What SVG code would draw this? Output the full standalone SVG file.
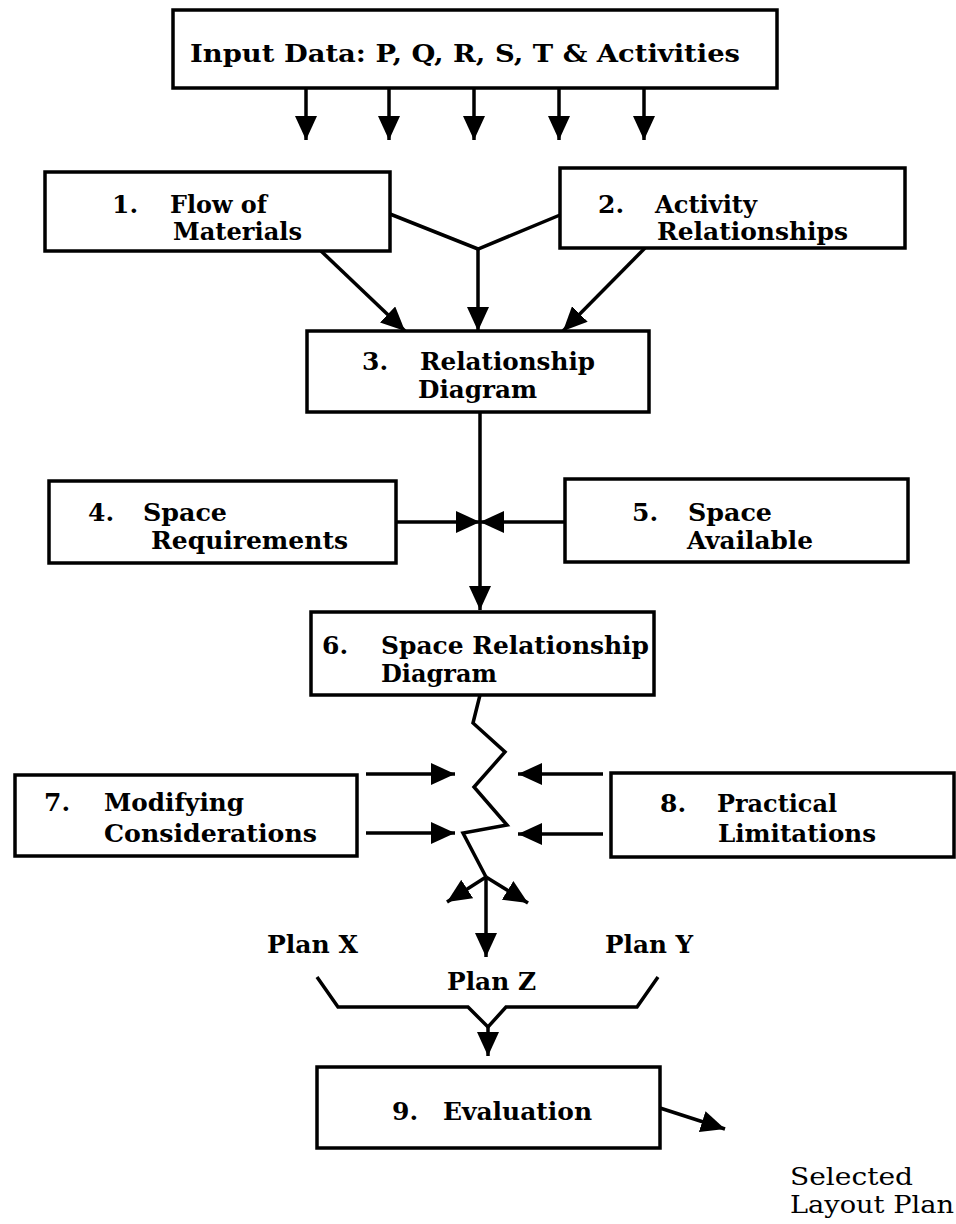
<svg xmlns="http://www.w3.org/2000/svg" width="956" height="1224" viewBox="0 0 956 1224">
<style>
.box{fill:#fff;stroke:#000;stroke-width:3.5}
.t{font-family:"DejaVu Serif","Liberation Serif",serif;font-weight:bold;font-size:25px;fill:#000}
.s{font-family:"DejaVu Serif","Liberation Serif",serif;font-size:25px;fill:#000}
.ln{fill:none;stroke:#000;stroke-width:3.5;stroke-linejoin:miter}
</style>
<defs>
<marker id="ah" markerUnits="userSpaceOnUse" markerWidth="26" markerHeight="22" refX="24" refY="11" orient="auto">
<path d="M0,0 L24,11 L0,22 z" fill="#000"/>
</marker>
</defs>
<rect width="956" height="1224" fill="#fff"/>
<g id="connectors">
<line class="ln" x1="306" y1="88" x2="306" y2="140" marker-end="url(#ah)"/>
<line class="ln" x1="389" y1="88" x2="389" y2="140" marker-end="url(#ah)"/>
<line class="ln" x1="474" y1="88" x2="474" y2="140" marker-end="url(#ah)"/>
<line class="ln" x1="559" y1="88" x2="559" y2="140" marker-end="url(#ah)"/>
<line class="ln" x1="644" y1="88" x2="644" y2="140" marker-end="url(#ah)"/>
<polyline class="ln" points="390,214 478,249 560,215"/>
<line class="ln" x1="478" y1="249" x2="478" y2="331" marker-end="url(#ah)"/>
<line class="ln" x1="321" y1="251" x2="405" y2="331" marker-end="url(#ah)"/>
<line class="ln" x1="645" y1="248" x2="563" y2="331" marker-end="url(#ah)"/>
<line class="ln" x1="480" y1="412" x2="480" y2="610" marker-end="url(#ah)"/>
<line class="ln" x1="396" y1="522" x2="480" y2="522" marker-end="url(#ah)"/>
<line class="ln" x1="565" y1="522" x2="480" y2="522" marker-end="url(#ah)"/>
<polyline class="ln" points="480,695 473,723 505,752 474,787 507,825 463,833 486,877"/>
<line class="ln" x1="486" y1="877" x2="447" y2="902" marker-end="url(#ah)"/>
<line class="ln" x1="486" y1="877" x2="528" y2="903" marker-end="url(#ah)"/>
<line class="ln" x1="486" y1="877" x2="486" y2="957" marker-end="url(#ah)"/>
<line class="ln" x1="366" y1="774" x2="455" y2="774" marker-end="url(#ah)"/>
<line class="ln" x1="366" y1="833" x2="455" y2="833" marker-end="url(#ah)"/>
<line class="ln" x1="603" y1="774" x2="518" y2="774" marker-end="url(#ah)"/>
<line class="ln" x1="603" y1="834" x2="518" y2="834" marker-end="url(#ah)"/>
<polyline class="ln" points="317,977 338,1007 468,1007 488,1027 506,1007 637,1007 658,977"/>
<line class="ln" x1="488" y1="1026" x2="488" y2="1056" marker-end="url(#ah)"/>
<line class="ln" x1="660" y1="1108" x2="725" y2="1129" marker-end="url(#ah)"/>
</g>
<g id="input">
<rect class="box" x="173" y="10" width="604" height="78"/>
<text class="t" x="190" y="62" textLength="550" lengthAdjust="spacingAndGlyphs">Input Data:  P, Q, R, S, T &amp; Activities</text>
</g>
<g id="n1">
<rect class="box" x="45" y="172" width="345" height="79"/>
<text class="t" x="112" y="213">1.</text>
<text class="t" x="170" y="213" textLength="97" lengthAdjust="spacingAndGlyphs">Flow of</text>
<text class="t" x="173" y="240" textLength="129" lengthAdjust="spacingAndGlyphs">Materials</text>
</g>
<g id="n2">
<rect class="box" x="560" y="168" width="345" height="80"/>
<text class="t" x="598" y="213">2.</text>
<text class="t" x="655" y="213" textLength="102" lengthAdjust="spacingAndGlyphs">Activity</text>
<text class="t" x="657" y="240" textLength="191" lengthAdjust="spacingAndGlyphs">Relationships</text>
</g>
<g id="n3">
<rect class="box" x="307" y="331" width="342" height="81"/>
<text class="t" x="362" y="370">3.</text>
<text class="t" x="420" y="370" textLength="175" lengthAdjust="spacingAndGlyphs">Relationship</text>
<text class="t" x="418" y="398" textLength="119" lengthAdjust="spacingAndGlyphs">Diagram</text>
</g>
<g id="n4">
<rect class="box" x="49" y="481" width="347" height="82"/>
<text class="t" x="88" y="521">4.</text>
<text class="t" x="143" y="521" textLength="84" lengthAdjust="spacingAndGlyphs">Space</text>
<text class="t" x="151" y="549" textLength="197" lengthAdjust="spacingAndGlyphs">Requirements</text>
</g>
<g id="n5">
<rect class="box" x="565" y="479" width="343" height="83"/>
<text class="t" x="632" y="521">5.</text>
<text class="t" x="688" y="521" textLength="84" lengthAdjust="spacingAndGlyphs">Space</text>
<text class="t" x="687" y="549" textLength="126" lengthAdjust="spacingAndGlyphs">Available</text>
</g>
<g id="n6">
<rect class="box" x="311" y="612" width="343" height="83"/>
<text class="t" x="322" y="654">6.</text>
<text class="t" x="381" y="654" textLength="268" lengthAdjust="spacingAndGlyphs">Space Relationship</text>
<text class="t" x="381" y="682" textLength="116" lengthAdjust="spacingAndGlyphs">Diagram</text>
</g>
<g id="n7">
<rect class="box" x="15" y="775" width="342" height="81"/>
<text class="t" x="44" y="811">7.</text>
<text class="t" x="104" y="811" textLength="140" lengthAdjust="spacingAndGlyphs">Modifying</text>
<text class="t" x="104" y="842" textLength="213" lengthAdjust="spacingAndGlyphs">Considerations</text>
</g>
<g id="n8">
<rect class="box" x="611" y="773" width="343" height="84"/>
<text class="t" x="660" y="812">8.</text>
<text class="t" x="717" y="812" textLength="120" lengthAdjust="spacingAndGlyphs">Practical</text>
<text class="t" x="718" y="842" textLength="158" lengthAdjust="spacingAndGlyphs">Limitations</text>
</g>
<g id="plans">
<text class="t" x="267" y="953" textLength="91" lengthAdjust="spacingAndGlyphs">Plan X</text>
<text class="t" x="605" y="953" textLength="88" lengthAdjust="spacingAndGlyphs">Plan Y</text>
<text class="t" x="447" y="990" textLength="89" lengthAdjust="spacingAndGlyphs">Plan Z</text>
</g>
<g id="n9">
<rect class="box" x="317" y="1067" width="343" height="81"/>
<text class="t" x="392" y="1120">9.</text>
<text class="t" x="443" y="1120" textLength="149" lengthAdjust="spacingAndGlyphs">Evaluation</text>
</g>
<g id="selected">
<text class="s" x="790" y="1185" textLength="123" lengthAdjust="spacingAndGlyphs">Selected</text>
<text class="s" x="790" y="1213" textLength="164" lengthAdjust="spacingAndGlyphs">Layout Plan</text>
</g>
</svg>
